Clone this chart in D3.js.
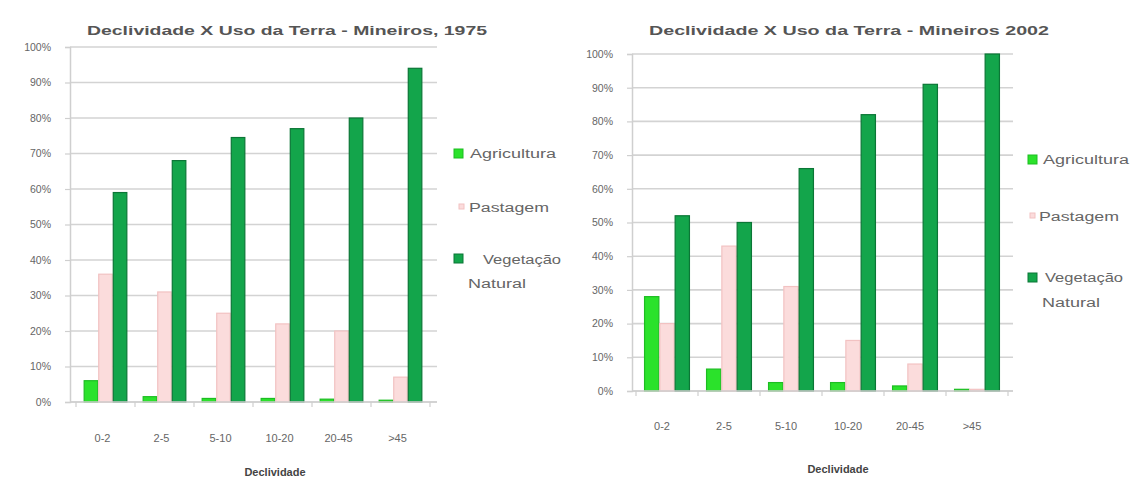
<!DOCTYPE html>
<html>
<head>
<meta charset="utf-8">
<script src="https://cdn.jsdelivr.net/npm/d3@7"></script>
<style>
  body { margin: 0; background: #ffffff; }
  svg { display: block; }
</style>
</head>
<body>
<svg id="chart" width="1131" height="478"></svg>
<script>
// Slope classes (Declividade, %) and land-use shares per class
const categories = ["0-2", "2-5", "5-10", "10-20", "20-45", ">45"];
const seriesNames = ["Agricultura", "Pastagem", "Vegetação Natural"];

const agricultura1975 = [6, 1.5, 1, 1, 0.8, 0.5];
const pastagem1975    = [36, 31, 25, 22, 20, 7];
const vegetacao1975   = [59, 68, 74.5, 77, 80, 94];

const agricultura2002 = [28, 6.5, 2.5, 2.5, 1.5, 0.5];
const pastagem2002    = [20, 43, 31, 15, 8, 0.5];
const vegetacao2002   = [52, 50, 66, 82, 91, 100];

const yTicks = [0, 10, 20, 30, 40, 50, 60, 70, 80, 90, 100];
const titles = ["Declividade X Uso da Terra - Mineiros, 1975",
                "Declividade X Uso da Terra - Mineiros 2002"];
const xAxisTitle = "Declividade";

// Visual styling of the three land-use series
const fills   = ["#2be22b", "#fbdcdc", "#13a54b"];
const strokes = ["#1dbd22", "#f2c2c2", "#0b7636"];

const svg = d3.select("#chart");
const FONT = "'Liberation Sans', Arial, sans-serif";

function drawPanel(p) {
  const g = svg.append("g");
  const y = d3.scaleLinear().domain([0, 100]).range([p.y0, p.y100]);

  // horizontal gridlines
  g.selectAll("line.grid").data(yTicks).join("line")
    .attr("x1", p.gridX0).attr("x2", p.gridX1)
    .attr("y1", d => y(d)).attr("y2", d => y(d))
    .attr("stroke", "#d3d3d3").attr("stroke-width", 1.6);

  // y axis with percentage labels
  const yAxis = d3.axisLeft(y).tickValues(yTicks).tickSize(5).tickPadding(p.tickPad)
    .tickFormat(d => d + "%");
  const ya = g.append("g").attr("transform", `translate(${p.gridX0},0)`).call(yAxis);
  ya.select(".domain").attr("stroke", "#cfcfcf").attr("stroke-width", 1.5);
  ya.selectAll(".tick line").attr("stroke", "#cfcfcf").attr("stroke-width", 1.2);
  ya.selectAll(".tick text").attr("fill", "#666").attr("font-family", FONT)
    .attr("font-size", 10.5);

  // category scale and grouped bars
  const x0 = d3.scaleBand().domain(categories).range([p.bandX0, p.bandX1])
    .paddingInner(0.26).paddingOuter(0.13);
  const x1 = d3.scaleBand().domain(seriesNames).range([0, x0.bandwidth()]);

  const rows = categories.map((c, i) => ({
    cat: c,
    values: seriesNames.map((s, k) => ({ s, k, v: p.series[k][i] }))
  }));

  const groups = g.selectAll("g.cat").data(rows).join("g")
    .attr("transform", d => `translate(${x0(d.cat)},0)`);
  groups.selectAll("rect").data(d => d.values).join("rect")
    .attr("x", d => x1(d.s) + 0.5)
    .attr("width", x1.bandwidth() - 1)
    .attr("y", d => y(d.v))
    .attr("height", d => y(0) - y(d.v))
    .attr("fill", d => fills[d.k])
    .attr("stroke", d => strokes[d.k])
    .attr("stroke-width", 1.2);

  // bottom axis line with tick marks between categories
  g.append("line").attr("x1", p.gridX0).attr("x2", p.gridX1)
    .attr("y1", y(0)).attr("y2", y(0))
    .attr("stroke", "#cfcfcf").attr("stroke-width", 1.5);
  const step = x0.step();
  const bounds = d3.range(categories.length + 1).map(i => p.bandX0 + i * step);
  g.selectAll("line.xt").data(bounds).join("line")
    .attr("x1", d => d).attr("x2", d => d)
    .attr("y1", y(0)).attr("y2", y(0) + 5)
    .attr("stroke", "#cfcfcf").attr("stroke-width", 1.2);

  // category labels
  g.selectAll("text.cat").data(categories).join("text")
    .attr("x", d => x0(d) + x0.bandwidth() / 2 + p.labelShift)
    .attr("y", p.labelY)
    .attr("text-anchor", "middle")
    .attr("fill", "#666").attr("font-family", FONT).attr("font-size", 11)
    .text(d => d);

  // axis title
  g.append("text").attr("x", p.axisTitleX).attr("y", p.axisTitleY)
    .attr("text-anchor", "middle").attr("fill", "#444")
    .attr("font-family", FONT).attr("font-size", 11).attr("font-weight", "bold")
    .text(xAxisTitle);

  // chart title
  g.append("text").attr("x", p.titleX).attr("y", p.titleY)
    .attr("text-anchor", "middle").attr("fill", "#555")
    .attr("font-family", FONT).attr("font-size", 13).attr("font-weight", "bold")
    .attr("textLength", p.titleLen).attr("lengthAdjust", "spacingAndGlyphs")
    .text(p.title);

  // legend
  const lg = g.append("g");
  p.legend.forEach((it, k) => {
    lg.append("rect").attr("x", it.sx).attr("y", it.sy)
      .attr("width", it.size).attr("height", it.size)
      .attr("fill", fills[k]).attr("stroke", strokes[k]).attr("stroke-width", 1);
    it.lines.forEach((ln, j) => {
      lg.append("text").attr("x", ln.x).attr("y", ln.y)
        .attr("fill", "#666").attr("font-family", FONT).attr("font-size", 12)
        .attr("textLength", ln.len).attr("lengthAdjust", "spacingAndGlyphs")
        .text(ln.t);
    });
  });
}

const vegWords = seriesNames[2].split(" ");

drawPanel({
  series: [agricultura1975, pastagem1975, vegetacao1975],
  title: titles[0], titleX: 287, titleY: 35, titleLen: 400,
  y0: 402, y100: 47,
  gridX0: 70, gridX1: 437, bandX0: 76, bandX1: 430,
  tickPad: 14, labelY: 442, labelShift: -3,
  axisTitleX: 275, axisTitleY: 476,
  legend: [
    { sx: 454, sy: 149, size: 9, lines: [{ t: seriesNames[0], x: 470, y: 158, len: 86 }] },
    { sx: 459, sy: 204, size: 5, lines: [{ t: seriesNames[1], x: 469, y: 212, len: 80 }] },
    { sx: 454, sy: 254, size: 9, lines: [{ t: vegWords[0], x: 483, y: 264, len: 78 },
                                           { t: vegWords[1], x: 468, y: 288, len: 58 }] }
  ]
});

drawPanel({
  series: [agricultura2002, pastagem2002, vegetacao2002],
  title: titles[1], titleX: 849, titleY: 35, titleLen: 400,
  y0: 391, y100: 54,
  gridX0: 632, gridX1: 1013, bandX0: 636, bandX1: 1008,
  tickPad: 14, labelY: 430, labelShift: -5,
  axisTitleX: 838, axisTitleY: 473,
  legend: [
    { sx: 1028, sy: 155, size: 9, lines: [{ t: seriesNames[0], x: 1043, y: 164, len: 86 }] },
    { sx: 1030, sy: 213, size: 5, lines: [{ t: seriesNames[1], x: 1039, y: 221, len: 80 }] },
    { sx: 1028, sy: 273, size: 9, lines: [{ t: vegWords[0], x: 1045, y: 282, len: 78 },
                                            { t: vegWords[1], x: 1042, y: 307, len: 58 }] }
  ]
});
</script>
</body>
</html>
